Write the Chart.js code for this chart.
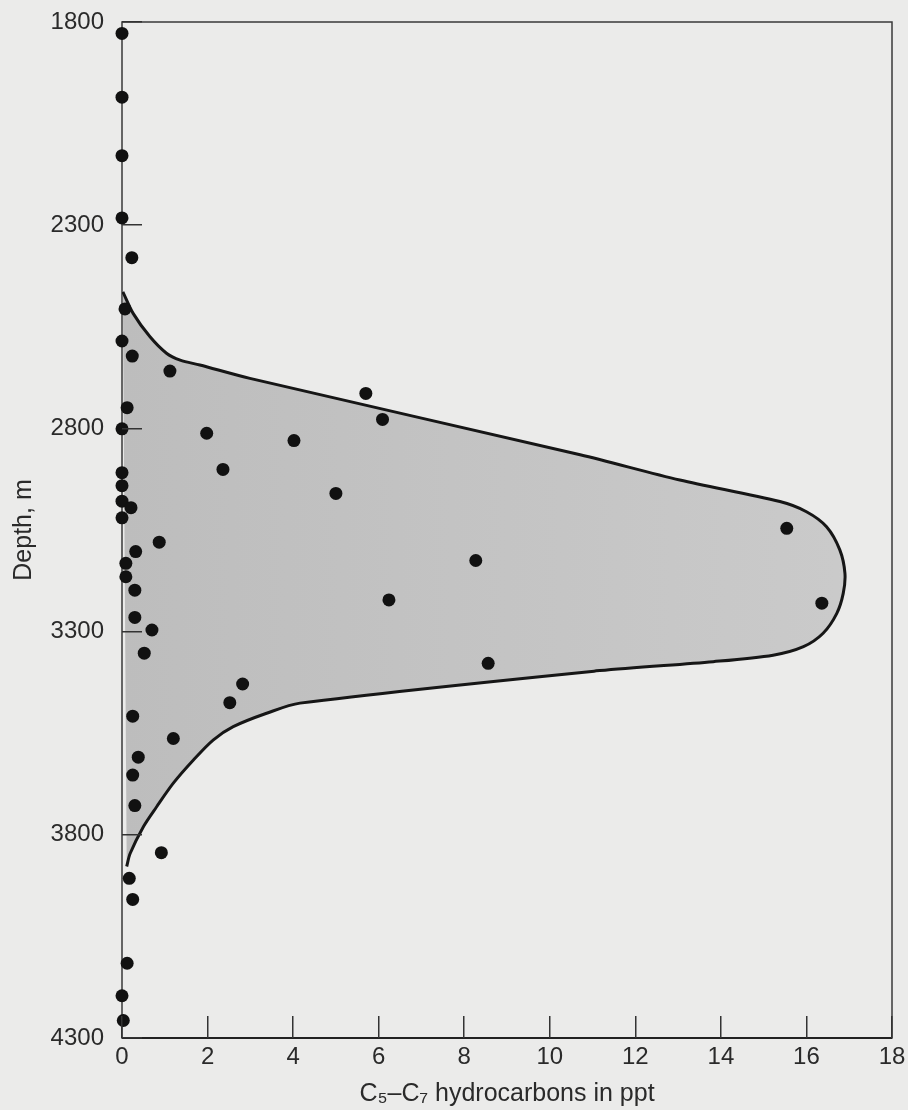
<!DOCTYPE html>
<html>
<head>
<meta charset="utf-8">
<title>C5-C7 hydrocarbons vs depth</title>
<script src="https://cdn.jsdelivr.net/npm/chart.js@4.4.1/dist/chart.umd.min.js"></script>
<style>
  html, body { margin: 0; padding: 0; background: #ebebea; }
  #wrap { width: 908px; height: 1110px; }
</style>
</head>
<body>
<div id="wrap"><canvas id="chart" width="908" height="1110"></canvas></div>
<script>
// ── samples: hydrocarbon content (ppt) vs depth (m) ──
const sampleHC = [
  0, 0, 0, 0, 0.23, 0.07, 0, 0.24, 1.12, 0.12,
  0, 1.98, 4.02, 2.36, 5.70, 6.09, 5.00, 0, 0, 0,
  0.21, 0, 0.87, 0.32, 0.09, 0.09, 0.30, 0.30, 0.70, 0.52,
  2.82, 2.52, 0.25, 1.20, 0.38, 0.25, 0.30, 0.92, 0.17, 0.25,
  0.12, 0, 0.03, 15.54, 16.36, 8.27, 6.24, 8.56
];
const sampleDepth = [
  1828, 1985, 2129, 2282, 2380, 2506, 2585, 2622, 2659, 2749,
  2801, 2812, 2830, 2901, 2714, 2778, 2960, 2909, 2941, 2979,
  2995, 3020, 3080, 3103, 3132, 3165, 3198, 3265, 3296, 3353,
  3429, 3475, 3508, 3563, 3609, 3653, 3728, 3844, 3907, 3959,
  4116, 4196, 4257, 3046, 3230, 3125, 3222, 3378
];

// ── envelope outline (oil window), traced top → nose → bottom ──
const envelopeHC = [
  0.02, 0.26, 0.65, 1.04, 1.36, 1.82, 2.99, 10.71, 13.04, 15.38,
  16.0, 16.47, 16.78, 16.90, 16.86, 16.71, 16.39, 15.93, 15.22, 13.82,
  11.17, 4.16, 3.38, 2.60, 2.13, 1.67, 1.20, 0.81, 0.50, 0.19, 0.11
];
const envelopeDepth = [
  2464, 2517, 2574, 2615, 2632, 2644, 2677, 2865, 2927, 2980,
  3005, 3042, 3099, 3157, 3206, 3255, 3304, 3337, 3358, 3374,
  3396, 3476, 3501, 3534, 3567, 3616, 3673, 3731, 3780, 3846, 3878
];

// ── axes ──
const depthTicks = [1800, 2300, 2800, 3300, 3800, 4300];
const hcTicks = [0, 2, 4, 6, 8, 10, 12, 14, 16, 18];

const INK = '#2a2a2a';
const FONT = '"Liberation Sans", Arial, Helvetica, sans-serif';

const samples = sampleHC.map((x, i) => ({ x, y: sampleDepth[i] }));
const envelope = envelopeHC.map((x, i) => ({ x, y: envelopeDepth[i] }));

// plot frame: thin box around the chart area
const framePlugin = {
  id: 'frame',
  beforeDatasetsDraw(chart) {
    const { ctx, chartArea: a } = chart;
    ctx.save();
    ctx.strokeStyle = '#3a3a3a';
    ctx.lineWidth = 1.5;
    ctx.strokeRect(a.left, a.top, a.right - a.left, a.bottom - a.top);
    ctx.strokeStyle = '#222';
    ctx.lineWidth = 2.2;
    ctx.beginPath();
    ctx.moveTo(a.left, a.bottom);
    ctx.lineTo(a.right, a.bottom);
    ctx.stroke();
    ctx.restore();
  }
};

// no extra room for overflowing edge labels
function noOverflow(s) {
  s.paddingTop = 0;
  s.paddingBottom = 0;
  s.paddingLeft = 0;
  s.paddingRight = 0;
}

function shadeFill(context) {
  const area = context.chart.chartArea;
  if (!area) return '#c4c4c4';
  const g = context.chart.ctx.createLinearGradient(area.left, 0, area.right, 0);
  g.addColorStop(0, '#bdbdbd');
  g.addColorStop(1, '#cbcbcb');
  return g;
}

new Chart(document.getElementById('chart'), {
  type: 'scatter',
  data: {
    datasets: [
      {
        label: 'samples',
        data: samples,
        pointRadius: 6.5,
        pointHoverRadius: 6.5,
        pointBackgroundColor: '#111',
        pointBorderColor: '#111',
        pointBorderWidth: 0,
        clip: false,
        order: 0
      },
      {
        label: 'envelope',
        type: 'line',
        data: envelope,
        showLine: true,
        pointRadius: 0,
        borderColor: '#161616',
        borderWidth: 3,
        backgroundColor: shadeFill,
        fill: 'shape',
        tension: 0.3,
        order: 1
      }
    ]
  },
  options: {
    responsive: false,
    animation: false,
    events: [],
    layout: { padding: { top: 22, right: 16, left: 0, bottom: 0 } },
    plugins: {
      legend: { display: false },
      tooltip: { enabled: false }
    },
    scales: {
      x: {
        type: 'linear',
        min: 0,
        max: 18,
        afterBuildTicks: s => { s.ticks = hcTicks.map(v => ({ value: v })); },
        afterFit: s => { s.height = 72; noOverflow(s); },
        grid: {
          z: 1,
          drawOnChartArea: false,
          drawTicks: true,
          tickLength: -22,
          color: '#333',
          lineWidth: 1.5
        },
        border: { display: false },
        ticks: {
          padding: 27,
          color: INK,
          font: { family: FONT, size: 24 },
          maxRotation: 0,
          callback: v => String(v)
        },
        title: {
          display: true,
          text: 'C₅–C₇ hydrocarbons in ppt',
          color: INK,
          font: { family: FONT, size: 25 },
          padding: { top: 0, bottom: 1 }
        }
      },
      y: {
        type: 'linear',
        reverse: true,
        min: 1800,
        max: 4300,
        afterBuildTicks: s => { s.ticks = depthTicks.map(v => ({ value: v })); },
        afterFit: s => { s.width = 122; noOverflow(s); },
        grid: {
          z: 1,
          drawOnChartArea: false,
          drawTicks: true,
          tickLength: -20,
          color: '#333',
          lineWidth: 1.5
        },
        border: { display: false },
        ticks: {
          padding: 38,
          color: INK,
          font: { family: FONT, size: 24 },
          callback: v => String(v)
        },
        title: {
          display: true,
          text: 'Depth, m',
          color: INK,
          font: { family: FONT, size: 25 },
          padding: { top: 9, bottom: 0 }
        }
      }
    }
  },
  plugins: [framePlugin]
});
</script>
</body>
</html>
